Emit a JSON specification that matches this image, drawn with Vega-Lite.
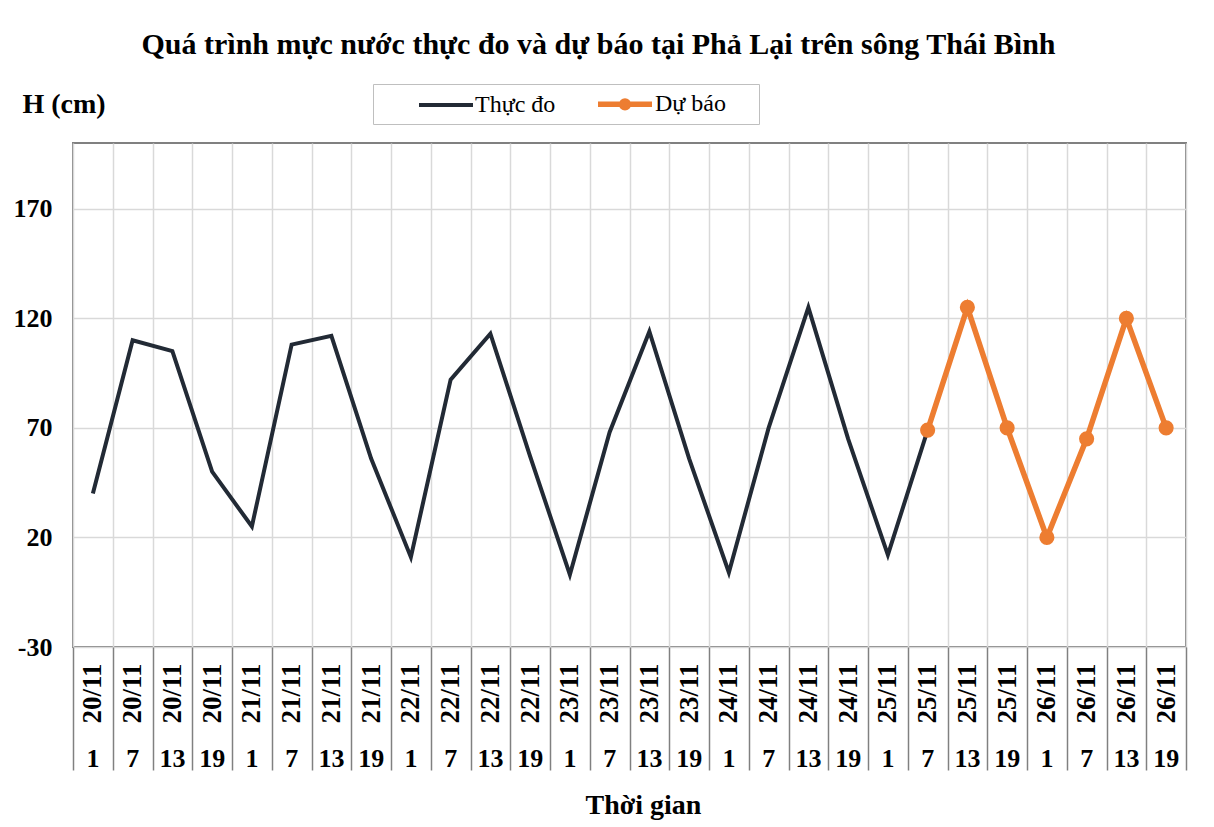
{
  "$schema": "https://vega.github.io/schema/vega-lite/v6.json",
  "width": 1113,
  "height": 504,
  "autosize": {"type": "none"},
  "padding": {"left": 73, "top": 143, "right": 28, "bottom": 180},
  "background": "white",
  "title": {
    "text": "Quá trình mực nước thực đo và dự báo tại Phả Lại trên sông Thái Bình",
    "font": "Liberation Serif", "fontSize": 30, "fontWeight": "bold", "color": "black",
    "anchor": "middle", "frame": "group", "dx": -31, "offset": 24
  },
  "config": {"view": {"stroke": "#808080", "strokeWidth": 2}, "font": "Liberation Serif"},
  "data": {"values": [
    {"i": 0, "t": "20/11 1", "h": 40, "s": "Thực đo"},
    {"i": 1, "t": "20/11 7", "h": 110, "s": "Thực đo"},
    {"i": 2, "t": "20/11 13", "h": 105, "s": "Thực đo"},
    {"i": 3, "t": "20/11 19", "h": 50, "s": "Thực đo"},
    {"i": 4, "t": "21/11 1", "h": 25, "s": "Thực đo"},
    {"i": 5, "t": "21/11 7", "h": 108, "s": "Thực đo"},
    {"i": 6, "t": "21/11 13", "h": 112, "s": "Thực đo"},
    {"i": 7, "t": "21/11 19", "h": 56, "s": "Thực đo"},
    {"i": 8, "t": "22/11 1", "h": 11, "s": "Thực đo"},
    {"i": 9, "t": "22/11 7", "h": 92, "s": "Thực đo"},
    {"i": 10, "t": "22/11 13", "h": 113, "s": "Thực đo"},
    {"i": 11, "t": "22/11 19", "h": 57, "s": "Thực đo"},
    {"i": 12, "t": "23/11 1", "h": 3, "s": "Thực đo"},
    {"i": 13, "t": "23/11 7", "h": 68, "s": "Thực đo"},
    {"i": 14, "t": "23/11 13", "h": 114, "s": "Thực đo"},
    {"i": 15, "t": "23/11 19", "h": 56, "s": "Thực đo"},
    {"i": 16, "t": "24/11 1", "h": 4, "s": "Thực đo"},
    {"i": 17, "t": "24/11 7", "h": 70, "s": "Thực đo"},
    {"i": 18, "t": "24/11 13", "h": 125, "s": "Thực đo"},
    {"i": 19, "t": "24/11 19", "h": 65, "s": "Thực đo"},
    {"i": 20, "t": "25/11 1", "h": 12, "s": "Thực đo"},
    {"i": 21, "t": "25/11 7", "h": 69, "s": "Thực đo"},
    {"i": 21, "t": "25/11 7", "h": 69, "s": "Dự báo"},
    {"i": 22, "t": "25/11 13", "h": 125, "s": "Dự báo"},
    {"i": 23, "t": "25/11 19", "h": 70, "s": "Dự báo"},
    {"i": 24, "t": "26/11 1", "h": 20, "s": "Dự báo"},
    {"i": 25, "t": "26/11 7", "h": 65, "s": "Dự báo"},
    {"i": 26, "t": "26/11 13", "h": 120, "s": "Dự báo"},
    {"i": 27, "t": "26/11 19", "h": 70, "s": "Dự báo"}
  ]},
  "layer": [
    {
      "mark": {"type": "line"},
      "encoding": {
        "x": {
          "field": "t", "type": "ordinal", "sort": {"field": "i", "op": "min"},
          "scale": {"type": "band", "paddingInner": 0, "paddingOuter": 0},
          "axis": {
            "orient": "bottom", "labelExpr": "split(datum.label, ' ')[0]",
            "labelAngle": -90, "labelFont": "Liberation Serif", "labelFontWeight": "bold",
            "labelFontSize": 27, "labelColor": "black", "labelPadding": -107,
            "labelOverlap": false, "tickBand": "extent", "tickSize": 123,
            "tickColor": "#808080", "tickWidth": 1.5, "grid": true,
            "gridColor": "#d9d9d9", "gridWidth": 1.5, "domain": false, "title": null
          }
        },
        "y": {
          "field": "h", "type": "quantitative",
          "scale": {"domain": [-30, 200], "nice": false, "zero": false},
          "axis": {
            "values": [-30, 20, 70, 120, 170], "labelExpr": "'' + datum.value",
            "labelFont": "Liberation Serif",
            "labelFontWeight": "bold", "labelFontSize": 26, "labelColor": "black",
            "labelPadding": 21, "ticks": false, "domain": false, "grid": true,
            "gridColor": "#d9d9d9", "gridWidth": 1.5,
            "title": "H (cm)", "titleAngle": 0, "titleX": -51, "titleY": -39,
            "titleAlign": "left", "titleBaseline": "middle", "titleFont": "Liberation Serif",
            "titleFontSize": 28, "titleFontWeight": "bold", "titleColor": "black"
          }
        },
        "color": {
          "field": "s", "type": "nominal",
          "scale": {"domain": ["Thực đo", "Dự báo"], "range": ["#222A35", "#ED7D31"]},
          "legend": {
            "orient": "none", "legendX": 300, "legendY": -59, "direction": "horizontal",
            "title": " ", "titleOrient": "right", "titlePadding": 28, "titleFontSize": 24,
            "strokeColor": "#bfbfbf", "padding": 5,
            "labelFont": "Liberation Serif", "labelFontSize": 24, "labelColor": "black",
            "symbolSize": 576, "symbolStrokeWidth": 4.5, "labelOffset": 69, "columnPadding": 0,
            "encode": {"symbols": {"update": {
              "shape": {"signal": "datum.value === 'Dự báo' ? 'M2.25,0H6.75M4.78,0A0.28,0.28,0,1,1,4.22,0A0.28,0.28,0,1,1,4.78,0Z' : 'M2.25,0H6.75'"},
              "fill": {"signal": "datum.value === 'Dự báo' ? '#ED7D31' : 'transparent'"},
              "stroke": {"signal": "datum.value === 'Dự báo' ? '#ED7D31' : '#222A35'"},
              "strokeWidth": {"value": 4.5},
              "opacity": {"value": 1}
            }}}
          }
        },
        "strokeWidth": {
          "field": "s", "type": "nominal",
          "scale": {"domain": ["Thực đo", "Dự báo"], "range": [4, 5.5]},
          "legend": null
        },
        "order": {"field": "i"}
      }
    },
    {
      "transform": [{"filter": "datum.s === 'Dự báo'"}],
      "mark": {"type": "point", "filled": true, "size": 230, "opacity": 1},
      "encoding": {
        "x": {
          "field": "t", "type": "ordinal", "sort": {"field": "i", "op": "min"},
          "scale": {"type": "band", "paddingInner": 0, "paddingOuter": 0},
          "axis": {
            "orient": "bottom", "labelExpr": "split(datum.label, ' ')[1]",
            "labelAngle": 0, "labelFont": "Liberation Serif", "labelFontWeight": "bold",
            "labelFontSize": 26, "labelColor": "black", "labelPadding": 98,
            "labelOverlap": false, "ticks": false, "domain": false, "grid": false,
            "title": "Thời gian", "titleFont": "Liberation Serif", "titleFontSize": 28,
            "titleFontWeight": "bold", "titleColor": "black", "titlePadding": 20, "titleX": 570
          }
        },
        "y": {"field": "h", "type": "quantitative"},
        "color": {"field": "s", "type": "nominal"}
      }
    }
  ],
  "resolve": {"axis": {"x": "independent"}}
}
